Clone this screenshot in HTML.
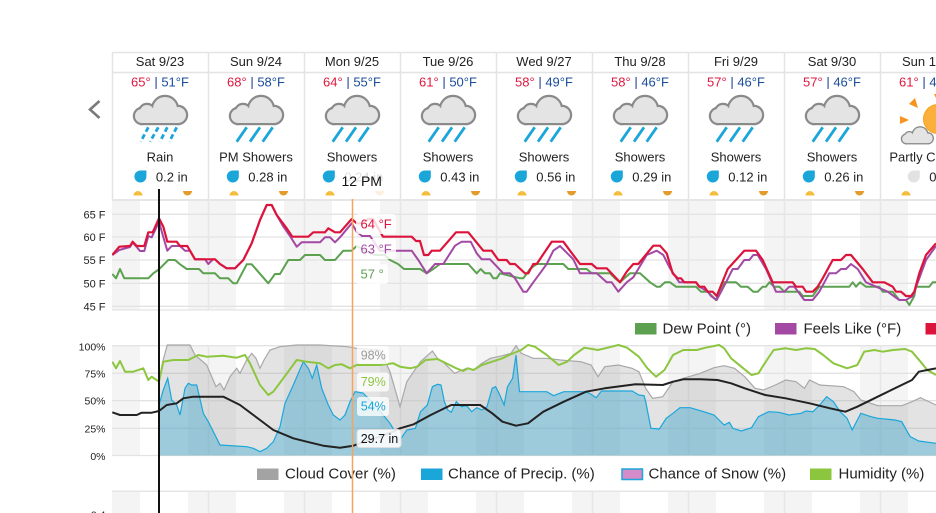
<!DOCTYPE html>
<html>
<head>
<meta charset="utf-8">
<style>
  html, body { margin:0; padding:0; background:#fff; width:936px; height:513px; overflow:hidden; }
  svg { display:block; }
  text { font-family: "Liberation Sans", Arial, sans-serif; }
</style>
</head>
<body>
<svg width="936" height="513" viewBox="0 0 936 513" xmlns="http://www.w3.org/2000/svg">
  <defs>
    <g id="cloud">
      <g fill="#8a8a8a" stroke="#8a8a8a" stroke-width="4.4">
        <circle cx="8" cy="19" r="7"/>
        <circle cx="13" cy="15" r="7"/>
        <circle cx="31" cy="12" r="12"/>
        <circle cx="44" cy="18" r="8"/>
        <rect x="8" y="15" width="36" height="11"/>
      </g>
      <g fill="#e4e4e4">
        <circle cx="8" cy="19" r="7"/>
        <circle cx="13" cy="15" r="7"/>
        <circle cx="31" cy="12" r="12"/>
        <circle cx="44" cy="18" r="8"/>
        <rect x="8" y="15" width="36" height="11"/>
      </g>
    </g>
    <path id="drop" d="M12,0 L12,6 A6,6 0 1,1 6,0 Z"/>
    <clipPath id="plot1"><rect x="112" y="199" width="824" height="112"/></clipPath>
    <clipPath id="plot2"><rect x="112" y="344" width="824" height="112"/></clipPath>
  </defs>

  <!-- chevron -->
  <path d="M99.5,101 L90,109.5 L99.5,118" fill="none" stroke="#7a7a7a" stroke-width="2.6"/>

  <!-- ============ HEADER ============ -->
  <g stroke="#e4e4e4" stroke-width="1.5">
    <line x1="112" y1="52.5" x2="936" y2="52.5"/>
    <line x1="112" y1="72.5" x2="936" y2="72.5"/>
    <line x1="112.5" y1="52" x2="112.5" y2="199"/>
    <line x1="208.5" y1="52" x2="208.5" y2="199"/>
    <line x1="304.5" y1="52" x2="304.5" y2="199"/>
    <line x1="400.5" y1="52" x2="400.5" y2="199"/>
    <line x1="496.5" y1="52" x2="496.5" y2="199"/>
    <line x1="592.5" y1="52" x2="592.5" y2="199"/>
    <line x1="688.5" y1="52" x2="688.5" y2="199"/>
    <line x1="784.5" y1="52" x2="784.5" y2="199"/>
    <line x1="880.5" y1="52" x2="880.5" y2="199"/>
  </g>

  <!-- dates -->
  <g font-size="13" fill="#222" text-anchor="middle">
    <text x="160" y="66">Sat 9/23</text>
    <text x="256" y="66">Sun 9/24</text>
    <text x="352" y="66">Mon 9/25</text>
    <text x="448" y="66">Tue 9/26</text>
    <text x="544" y="66">Wed 9/27</text>
    <text x="640" y="66">Thu 9/28</text>
    <text x="736" y="66">Fri 9/29</text>
    <text x="832" y="66">Sat 9/30</text>
    <text x="928" y="66">Sun 10/1</text>
  </g>

  <!-- hi/lo temps -->
  <g font-size="13" text-anchor="middle">
    <text x="160" y="86.5"><tspan fill="#e0173f">65°</tspan><tspan fill="#1b3f8f"> | </tspan><tspan fill="#1b4d9b">51°F</tspan></text>
    <text x="256" y="86.5"><tspan fill="#e0173f">68°</tspan><tspan fill="#1b3f8f"> | </tspan><tspan fill="#1b4d9b">58°F</tspan></text>
    <text x="352" y="86.5"><tspan fill="#e0173f">64°</tspan><tspan fill="#1b3f8f"> | </tspan><tspan fill="#1b4d9b">55°F</tspan></text>
    <text x="448" y="86.5"><tspan fill="#e0173f">61°</tspan><tspan fill="#1b3f8f"> | </tspan><tspan fill="#1b4d9b">50°F</tspan></text>
    <text x="544" y="86.5"><tspan fill="#e0173f">58°</tspan><tspan fill="#1b3f8f"> | </tspan><tspan fill="#1b4d9b">49°F</tspan></text>
    <text x="640" y="86.5"><tspan fill="#e0173f">58°</tspan><tspan fill="#1b3f8f"> | </tspan><tspan fill="#1b4d9b">46°F</tspan></text>
    <text x="736" y="86.5"><tspan fill="#e0173f">57°</tspan><tspan fill="#1b3f8f"> | </tspan><tspan fill="#1b4d9b">46°F</tspan></text>
    <text x="832" y="86.5"><tspan fill="#e0173f">57°</tspan><tspan fill="#1b3f8f"> | </tspan><tspan fill="#1b4d9b">46°F</tspan></text>
    <text x="928" y="86.5"><tspan fill="#e0173f">61°</tspan><tspan fill="#1b3f8f"> | </tspan><tspan fill="#1b4d9b">45°F</tspan></text>
  </g>

  <!-- clouds -->
  <use href="#cloud" x="134" y="97"/>
  <use href="#cloud" x="230" y="97"/>
  <use href="#cloud" x="326" y="97"/>
  <use href="#cloud" x="422" y="97"/>
  <use href="#cloud" x="518" y="97"/>
  <use href="#cloud" x="614" y="97"/>
  <use href="#cloud" x="710" y="97"/>
  <use href="#cloud" x="806" y="97"/>

  <!-- rain streaks -->
  <g stroke="#1ba6da" stroke-width="2.8" fill="none">
    <g stroke-dasharray="5 3">
      <line x1="148.3" y1="127.3" x2="140.7" y2="141.7"/>
      <line x1="158.3" y1="127.3" x2="150" y2="141.7"/>
      <line x1="167.3" y1="127.3" x2="160" y2="141.7"/>
      <line x1="176.7" y1="127.3" x2="169.3" y2="141.7"/>
    </g>
    <line x1="246.7" y1="127.3" x2="236.7" y2="141.7"/><line x1="260" y1="127.3" x2="250" y2="141.7"/><line x1="272.7" y1="127.3" x2="262.7" y2="141.7"/>
    <line x1="342.7" y1="127.3" x2="332.7" y2="141.7"/><line x1="356" y1="127.3" x2="346" y2="141.7"/><line x1="368.7" y1="127.3" x2="358.7" y2="141.7"/>
    <line x1="438.7" y1="127.3" x2="428.7" y2="141.7"/><line x1="452" y1="127.3" x2="442" y2="141.7"/><line x1="464.7" y1="127.3" x2="454.7" y2="141.7"/>
    <line x1="534.7" y1="127.3" x2="524.7" y2="141.7"/><line x1="548" y1="127.3" x2="538" y2="141.7"/><line x1="560.7" y1="127.3" x2="550.7" y2="141.7"/>
    <line x1="630.7" y1="127.3" x2="620.7" y2="141.7"/><line x1="644" y1="127.3" x2="634" y2="141.7"/><line x1="656.7" y1="127.3" x2="646.7" y2="141.7"/>
    <line x1="726.7" y1="127.3" x2="716.7" y2="141.7"/><line x1="740" y1="127.3" x2="730" y2="141.7"/><line x1="752.7" y1="127.3" x2="742.7" y2="141.7"/>
    <line x1="822.7" y1="127.3" x2="812.7" y2="141.7"/><line x1="836" y1="127.3" x2="826" y2="141.7"/><line x1="848.7" y1="127.3" x2="838.7" y2="141.7"/>
  </g>

  <!-- partly cloudy icon -->
  <g fill="#f7931e">
    <polygon points="934,94 942,94 938,102"/>
    <polygon points="909,104 915,98 918,108" />
    <polygon points="900,116 900,124 909,120"/>
    <polygon points="960,104 954,98 951,108"/>
  </g>
  <circle cx="938" cy="119" r="14.5" fill="#fbb03b" stroke="#f7a21e" stroke-width="1"/>
  <use href="#cloud" transform="translate(901.5,127.5) scale(0.6)"/>

  <!-- conditions -->
  <g font-size="13" fill="#222" text-anchor="middle">
    <text x="160" y="161.5">Rain</text>
    <text x="256" y="161.5">PM Showers</text>
    <text x="352" y="161.5">Showers</text>
    <text x="448" y="161.5">Showers</text>
    <text x="544" y="161.5">Showers</text>
    <text x="640" y="161.5">Showers</text>
    <text x="736" y="161.5">Showers</text>
    <text x="832" y="161.5">Showers</text>
    <text x="928" y="161.5">Partly Cloudy</text>
  </g>

  <!-- precip -->
  <g fill="#1ba6da">
    <use href="#drop" x="134.4" y="170.5"/>
    <use href="#drop" x="226.8" y="170.5"/>
    <use href="#drop" x="322.8" y="170.5"/>
    <use href="#drop" x="418.8" y="170.5"/>
    <use href="#drop" x="514.8" y="170.5"/>
    <use href="#drop" x="610.8" y="170.5"/>
    <use href="#drop" x="706.8" y="170.5"/>
    <use href="#drop" x="802.8" y="170.5"/>
  </g>
  <use href="#drop" x="907.8" y="170.5" fill="#e2e2e2"/>
  <g font-size="13" fill="#222">
    <text x="155.9" y="181.5">0.2 in</text>
    <text x="248.3" y="181.5">0.28 in</text>
    <text x="344.3" y="181.5">0.24 in</text>
    <text x="440.3" y="181.5">0.43 in</text>
    <text x="536.3" y="181.5">0.56 in</text>
    <text x="632.3" y="181.5">0.29 in</text>
    <text x="728.3" y="181.5">0.12 in</text>
    <text x="824.3" y="181.5">0.26 in</text>
    <text x="929.3" y="181.5">0 in</text>
  </g>

  <!-- sunrise / sunset dots -->
  <g fill="#f7bb3d">
    <path d="M133.5,195.5 A4.5,4.5 0 0 1 142.5,195.5 Z"/>
    <path d="M229.5,195.5 A4.5,4.5 0 0 1 238.5,195.5 Z"/>
    <path d="M325.5,195.5 A4.5,4.5 0 0 1 334.5,195.5 Z"/>
    <path d="M421.5,195.5 A4.5,4.5 0 0 1 430.5,195.5 Z"/>
    <path d="M517.5,195.5 A4.5,4.5 0 0 1 526.5,195.5 Z"/>
    <path d="M613.5,195.5 A4.5,4.5 0 0 1 622.5,195.5 Z"/>
    <path d="M709.5,195.5 A4.5,4.5 0 0 1 718.5,195.5 Z"/>
    <path d="M805.5,195.5 A4.5,4.5 0 0 1 814.5,195.5 Z"/>
    <path d="M901.5,195.5 A4.5,4.5 0 0 1 910.5,195.5 Z"/>
  </g>
  <g fill="#e39b2b">
    <path d="M183,191 A4.5,4.5 0 0 0 192,191 Z"/>
    <path d="M279,191 A4.5,4.5 0 0 0 288,191 Z"/>
    <path d="M375,191 A4.5,4.5 0 0 0 384,191 Z"/>
    <path d="M471,191 A4.5,4.5 0 0 0 480,191 Z"/>
    <path d="M567,191 A4.5,4.5 0 0 0 576,191 Z"/>
    <path d="M663,191 A4.5,4.5 0 0 0 672,191 Z"/>
    <path d="M759,191 A4.5,4.5 0 0 0 768,191 Z"/>
    <path d="M855,191 A4.5,4.5 0 0 0 864,191 Z"/>
  </g>

  <!-- ============ TEMPERATURE CHART ============ -->
  <rect x="112" y="199" width="824" height="2" fill="#e6e6e6"/>
  <g fill="#f4f4f4">
    <rect x="112" y="201" width="28" height="109"/>
    <rect x="188" y="201" width="48" height="109"/>
    <rect x="284" y="201" width="48" height="109"/>
    <rect x="380" y="201" width="48" height="109"/>
    <rect x="476" y="201" width="48" height="109"/>
    <rect x="572" y="201" width="48" height="109"/>
    <rect x="668" y="201" width="48" height="109"/>
    <rect x="764" y="201" width="48" height="109"/>
    <rect x="860" y="201" width="48" height="109"/>
  </g>
  <g stroke="#e3e3e3" stroke-width="1.3">
    <line x1="112" y1="214.3" x2="936" y2="214.3"/>
    <line x1="112" y1="237" x2="936" y2="237"/>
    <line x1="112" y1="260" x2="936" y2="260"/>
    <line x1="112" y1="283.3" x2="936" y2="283.3"/>
    <line x1="112" y1="306.3" x2="936" y2="306.3"/>
    <line x1="112" y1="310" x2="936" y2="310"/>
  </g>
  <g stroke="#e6e6e6" stroke-width="1.5">
    <line x1="208.5" y1="199" x2="208.5" y2="310"/>
    <line x1="304.5" y1="199" x2="304.5" y2="310"/>
    <line x1="400.5" y1="199" x2="400.5" y2="310"/>
    <line x1="496.5" y1="199" x2="496.5" y2="310"/>
    <line x1="592.5" y1="199" x2="592.5" y2="310"/>
    <line x1="688.5" y1="199" x2="688.5" y2="310"/>
    <line x1="784.5" y1="199" x2="784.5" y2="310"/>
    <line x1="880.5" y1="199" x2="880.5" y2="310"/>
  </g>
  <g font-size="11" fill="#222" text-anchor="end">
    <text x="105.5" y="218.3">65 F</text>
    <text x="105.5" y="241">60 F</text>
    <text x="105.5" y="264">55 F</text>
    <text x="105.5" y="287.3">50 F</text>
    <text x="105.5" y="310.3">45 F</text>
  </g>

  <g fill="none" stroke-width="2" stroke-linejoin="round" clip-path="url(#plot1)">
    <polyline stroke="#5ba150" points="112.3,274 116,278.3 120,269 124.3,278.3 148.3,278.3 153.3,273.3 159,269.3 168.3,260 175,260 180,264.3 186.7,269 199,269 203.3,273.3 215,273.3 220,278.3 228.3,278.3 233.3,283.3 236.7,283.3 246.7,264.3 251.7,264.3 268.3,283.3 275,274 280,274 288.3,260 300,260 305,255 320,255 325,260 335,260 343.3,250.7 351.7,250.7 356.7,246 365,250.7 375,255 385,255 390,260 398,264 404,269 420,269 426.7,273.3 433.3,269 440,264 468.3,264 476.7,273.3 480.7,269 485,273.3 490,273.3 493.3,278.3 496.7,278.3 500,273.3 520,278.3 523.3,278.3 530,269 536.7,264 563.3,264 568.3,269 586.7,269 591.7,273.3 610,273.3 615,278.3 620,282.3 630,273.3 640,273.3 650,282.3 656.7,286.7 660,286.7 665,282.3 670,282.3 676,286.7 696,286.7 701,291.7 707.7,291.7 716,300 724.3,282.3 736,282.3 741,286.7 747.7,286.7 753.3,291.7 757.7,291.7 762.7,286.7 766,286.7 769.3,282.3 774.3,286.7 779.3,286.7 784.3,291.7 799.3,291.7 802.7,296 812.7,296 819.3,286.7 849.3,286.7 852.7,282.3 856,286.7 860,282.3 866,286.7 879.3,286.7 882.7,291.7 892.7,291.7 899.3,300 906,300 909.3,305 914.3,296 916,286.7 929.3,286.7 932.7,282.3 936,282.3"/>
    <polyline stroke="#a349a4" points="112.3,255 119.3,250 130,247 132.7,242.7 136.7,247 140,251 144.3,251 148.3,236 151.7,237.3 156.7,226.7 159,221.7 163,236 167.3,250.7 171.7,246 180,246 185,250.7 190,250.7 195,259.3 205,259.3 208.3,264 213,259.3 215,259.3 220,264 226.7,268.3 235,268.3 243.3,260 251.7,243.3 260,220 266.7,205 271.7,205 276.7,215 283,226 290,236 296.7,246.7 301.7,242.3 320,242.3 325,237.3 330,237.3 335,242.3 340,237.3 351.7,223.3 356.7,231.7 362,236 370,236 380,250.7 411.7,250.7 418.3,260 426.7,273.3 435,264 443.3,264 455,245.7 461.7,241.7 470.7,241.7 476.7,253.3 481.7,259.3 490,259.3 503.3,273.3 510,273.3 515,278.3 523.3,291.7 526.7,291.7 533.3,282.3 540,273.3 546.7,264 553.3,250.7 560,246 573.3,259.3 580,273.3 596.7,273.3 606.7,282.3 611.7,282.3 618.3,291.7 626.7,282.3 633.3,277.3 646.7,255 656.7,250.7 663.3,255 670,268.3 679.3,282.3 696,282.3 699.3,286.7 707.7,291.7 711,296 716.7,300 726,282.3 732.7,269 737.7,269 744.3,260 749.3,260 753.3,255 757.7,255 766,269 776,291.7 784.3,291.7 789.3,286.7 794.3,286.7 804.3,300 812.7,300 819.3,291.7 829.3,273.3 836,273.3 841,269 846,269 851,264 857.7,269 866,282.3 887.7,291.7 899.3,300 906,300 912.7,296 919.3,278.3 926,260 936,246"/>
    <polyline stroke="#dc143c" stroke-width="2.2" points="112.3,255 119.3,246.7 130,246 132.7,241.7 136.7,246 144.3,246 148.3,232.3 152.7,232.3 159,218.3 163.3,226.7 167.3,241.7 176.7,241.7 180,246 187.3,246 195,259.3 215,259.3 220,264 226.7,268.3 235,268.3 243.3,260 251.7,243.3 260,220 266.7,205 271.7,205 276.7,215 286.7,228.3 292.3,236.7 308.3,236.7 313.3,232.3 325,232.3 328.3,228.3 335,232.3 340,232.3 351.7,219 356.7,223.3 362,223.3 368,219 373,219 383,236.7 411.7,236.7 416,241 420,241 424,255 428.3,255 431.7,250.7 440,250.7 456,232.3 468.3,232.3 483.3,250.7 491.7,250.7 498.3,260 506.7,260 510,264 515,264 525,273.3 528.3,273.3 533.3,264 536.7,264 551.7,241.7 563.3,241.7 570,250.7 580,264 591.7,264 596.7,268.3 606.7,268.3 620,282.3 626.7,271.7 633.3,264 638.3,264 653.3,245.7 660,245.7 666.7,253.3 672.7,273.3 677.7,278.3 681,278.3 684.3,282.3 696,282.3 699.3,286.7 704.3,286.7 707.7,291.7 712.7,291.7 716.7,296 727.7,269 744.3,250.7 756,250.7 762.7,260 772.7,282.3 792.7,282.3 796,286.7 802.7,286.7 806,291.7 812.7,291.7 817.7,286.7 822.7,278.3 832.7,260 841,260 846,255 851,255 862.7,269 872.7,282.3 884.3,282.3 892.7,286.7 896,291.7 901,291.7 906,296 911,296 914.3,291.7 919.3,273.3 926,255 936,243.3"/>
  </g>

  <!-- temp tooltips -->
  <g fill="#ffffff" fill-opacity="0.82">
    <rect x="356" y="214" width="40" height="20" rx="3"/>
    <rect x="356" y="239" width="40" height="20" rx="3"/>
    <rect x="356" y="264" width="32" height="20" rx="3"/>
  </g>
  <g font-size="13">
    <text x="360.5" y="228.6" fill="#dc143c">64 °F</text>
    <text x="360.5" y="253.6" fill="#a349a4">63 °F</text>
    <text x="360.5" y="278.6" fill="#5ba150">57 °</text>
  </g>

  <!-- legend 1 -->
  <g font-size="15" fill="#222">
    <rect x="635" y="323" width="21.5" height="11.5" fill="#5ba150"/>
    <text x="662.5" y="333.5">Dew Point (°)</text>
    <rect x="775" y="323" width="21.5" height="11.5" fill="#a349a4"/>
    <text x="803.5" y="333.5">Feels Like (°F)</text>
    <rect x="925.5" y="323" width="21.5" height="11.5" fill="#dc143c"/>
  </g>

  <!-- ============ HUMIDITY CHART ============ -->
  <g fill="#f4f4f4">
    <rect x="112" y="345.5" width="28" height="110"/>
    <rect x="188" y="345.5" width="48" height="110"/>
    <rect x="284" y="345.5" width="48" height="110"/>
    <rect x="380" y="345.5" width="48" height="110"/>
    <rect x="476" y="345.5" width="48" height="110"/>
    <rect x="572" y="345.5" width="48" height="110"/>
    <rect x="668" y="345.5" width="48" height="110"/>
    <rect x="764" y="345.5" width="48" height="110"/>
    <rect x="860" y="345.5" width="48" height="110"/>
  </g>
  <g stroke="#e3e3e3" stroke-width="1.3">
    <line x1="112" y1="345.7" x2="936" y2="345.7"/>
    <line x1="112" y1="373.3" x2="936" y2="373.3"/>
    <line x1="112" y1="400.7" x2="936" y2="400.7"/>
    <line x1="112" y1="428.3" x2="936" y2="428.3"/>
    <line x1="112" y1="455.5" x2="936" y2="455.5"/>
  </g>
  <g stroke="#e6e6e6" stroke-width="1.5">
    <line x1="208.5" y1="345" x2="208.5" y2="456"/>
    <line x1="304.5" y1="345" x2="304.5" y2="456"/>
    <line x1="400.5" y1="345" x2="400.5" y2="456"/>
    <line x1="496.5" y1="345" x2="496.5" y2="456"/>
    <line x1="592.5" y1="345" x2="592.5" y2="456"/>
    <line x1="688.5" y1="345" x2="688.5" y2="456"/>
    <line x1="784.5" y1="345" x2="784.5" y2="456"/>
    <line x1="880.5" y1="345" x2="880.5" y2="456"/>
  </g>
  <g font-size="10.5" fill="#222" text-anchor="end">
    <text x="105.5" y="350.5">100%</text>
    <text x="105.5" y="377.3">75%</text>
    <text x="105.5" y="404.7">50%</text>
    <text x="105.5" y="432.3">25%</text>
    <text x="105.5" y="460">0%</text>
  </g>

  <g clip-path="url(#plot2)">
    <!-- cloud cover -->
    <polygon fill="#999999" fill-opacity="0.28" points="159,381.7 162.7,361.7 167.3,345 190,345 195,355 206.7,365 216,386.7 220,383.3 224,390 230,376.7 236.7,368.3 240,373.3 246.7,360 251.7,353.3 256,358.3 260,368.3 264,360 270,350 280,346.7 296.7,345 320,345 346.7,346.7 356.7,348.3 380,350 390,371.7 400,406.7 406.8,381.7 420.5,361.7 432.4,351 437.5,358.3 444.4,363.3 454.6,373.3 459.7,371 466.6,368.3 473.4,370 482,363.3 490.4,358.3 502.4,355.7 511,353.3 516,345.7 521.2,353.3 533.1,358.3 546.8,358.3 560.4,360 580.9,361.7 591.1,365 598,376.7 604.8,366.7 618.4,365 632.1,368.3 638.9,371.7 645.7,388.3 652.6,398.3 662.8,396.7 673,381.7 683.3,378.3 700.3,373.3 714,367.7 724.2,365.7 734.5,368.3 744.7,376.7 755,388.3 763.5,390 775.4,385 785.7,380 795.9,381.7 804.4,388.3 809.6,380 819.8,385 843.7,386.7 854,391.7 860.8,400 877.8,405.7 901.7,405.7 912,401.7 920.5,397.7 927.3,401 936,405 936,455.5 159,455.5"/>
    <polyline fill="none" stroke="#a8a8a8" stroke-width="1.2" points="159,381.7 162.7,361.7 167.3,345 190,345 195,355 206.7,365 216,386.7 220,383.3 224,390 230,376.7 236.7,368.3 240,373.3 246.7,360 251.7,353.3 256,358.3 260,368.3 264,360 270,350 280,346.7 296.7,345 320,345 346.7,346.7 356.7,348.3 380,350 390,371.7 400,406.7 406.8,381.7 420.5,361.7 432.4,351 437.5,358.3 444.4,363.3 454.6,373.3 459.7,371 466.6,368.3 473.4,370 482,363.3 490.4,358.3 502.4,355.7 511,353.3 516,345.7 521.2,353.3 533.1,358.3 546.8,358.3 560.4,360 580.9,361.7 591.1,365 598,376.7 604.8,366.7 618.4,365 632.1,368.3 638.9,371.7 645.7,388.3 652.6,398.3 662.8,396.7 673,381.7 683.3,378.3 700.3,373.3 714,367.7 724.2,365.7 734.5,368.3 744.7,376.7 755,388.3 763.5,390 775.4,385 785.7,380 795.9,381.7 804.4,388.3 809.6,380 819.8,385 843.7,386.7 854,391.7 860.8,400 877.8,405.7 901.7,405.7 912,401.7 920.5,397.7 927.3,401 936,405"/>
    <!-- precip -->
    <polygon fill="#3caad2" fill-opacity="0.42" points="159,405 163.3,390 167.7,378.3 171.7,400 176.7,405 180,415 185,388.3 188.3,383.3 191.7,385 196.7,385 203.3,413.3 208.3,421.7 215,435 220,445 246.7,446.7 253.3,448.3 260,451.7 266.7,448.3 273.3,441.7 280,426.7 285,403.3 293.3,385 303.3,361.7 308.3,368.3 312.3,378.3 316.7,365 321.7,388.3 328.3,405 333.3,415 340,420 345,415 350,401.7 355,391.7 363,393 375,405 390,423.3 400,440 406.8,430 415.4,428.3 420.5,411.7 427.3,405 432.4,386.7 437.5,384.3 441,385 444.4,401.7 447.8,410 451.2,412.3 456.3,401.7 461.4,406.7 466.6,405.7 471.7,411.7 476.8,407.7 481.9,410 487,406.7 492.2,388.3 495.6,386.7 499,393.3 504.1,405 507.5,386.7 512.6,378.3 516,355 519.5,391.7 546.8,391.7 553.6,395.7 563.8,391.7 584.3,391.7 589.4,393.3 596.2,397.7 601.4,391 632.1,391 638.9,395 644,395.7 645.7,401.7 650.9,428.3 659.4,429 666.2,418.3 673,413.3 679.9,407.7 690.1,407.7 703.8,411.7 714,415 724.2,425 729.4,422.3 732.8,428.3 741.3,431 751.5,427.7 758.4,416.7 768.6,411.7 778.8,412.3 789.1,415 801,413.3 806.1,411 812.9,411.7 819.8,405 826.6,396.7 833.4,401.7 840.2,411.7 847.1,418.3 852.2,430 860.8,413.3 871,416.7 877.8,418.3 894.9,420 901.7,421.7 910.2,436.7 918.8,441 936,443.3 936,455.5 159,455.5"/>
    <polyline fill="none" stroke="#1ba6da" stroke-width="1.2" points="159,405 163.3,390 167.7,378.3 171.7,400 176.7,405 180,415 185,388.3 188.3,383.3 191.7,385 196.7,385 203.3,413.3 208.3,421.7 215,435 220,445 246.7,446.7 253.3,448.3 260,451.7 266.7,448.3 273.3,441.7 280,426.7 285,403.3 293.3,385 303.3,361.7 308.3,368.3 312.3,378.3 316.7,365 321.7,388.3 328.3,405 333.3,415 340,420 345,415 350,401.7 355,391.7 363,393 375,405 390,423.3 400,440 406.8,430 415.4,428.3 420.5,411.7 427.3,405 432.4,386.7 437.5,384.3 441,385 444.4,401.7 447.8,410 451.2,412.3 456.3,401.7 461.4,406.7 466.6,405.7 471.7,411.7 476.8,407.7 481.9,410 487,406.7 492.2,388.3 495.6,386.7 499,393.3 504.1,405 507.5,386.7 512.6,378.3 516,355 519.5,391.7 546.8,391.7 553.6,395.7 563.8,391.7 584.3,391.7 589.4,393.3 596.2,397.7 601.4,391 632.1,391 638.9,395 644,395.7 645.7,401.7 650.9,428.3 659.4,429 666.2,418.3 673,413.3 679.9,407.7 690.1,407.7 703.8,411.7 714,415 724.2,425 729.4,422.3 732.8,428.3 741.3,431 751.5,427.7 758.4,416.7 768.6,411.7 778.8,412.3 789.1,415 801,413.3 806.1,411 812.9,411.7 819.8,405 826.6,396.7 833.4,401.7 840.2,411.7 847.1,418.3 852.2,430 860.8,413.3 871,416.7 877.8,418.3 894.9,420 901.7,421.7 910.2,436.7 918.8,441 936,443.3"/>
    <!-- humidity -->
    <polyline fill="none" stroke="#8cc63f" stroke-width="2" stroke-linejoin="round" points="112.3,361.7 116,368.3 120,361 125,371.7 133.3,371.7 143.3,368.3 148.3,380 151.7,376.7 159,381.7 163.3,361.7 173.3,360 188.3,360 198.3,355 206.7,356.7 223.3,355.7 236.7,357.7 245,355 250,363.3 260,385 268.3,395 273.3,391.7 283.3,378.3 296.7,360 306.7,361.7 320,363.3 328.3,368.3 335,365 341.7,364.3 350,368.3 356.7,365 380,365 393.3,363.3 400,366.7 410.2,368.3 417.1,366.7 425.6,360 437.5,359 446.1,363.3 456.3,368.3 463.1,371 468.3,368.3 473.4,370 482,365 492.2,361.7 502.4,358.3 509.2,355 521.2,350 528,345 534.8,346.7 546.8,355 558.7,365 567.2,361.7 574.1,355 584.3,347.7 598,350 611.6,346.7 618.4,345 627,347.7 638.9,356.7 647.4,368.3 656,376.7 664.5,370 673,355 683.3,350 696.9,350 705.5,347.7 719.1,345 724.2,348.3 731.1,358.3 741.3,366.7 751.5,375 758.4,373.3 766.9,360 773.7,350 785.7,348.3 795.9,350 806.1,348.3 814.7,349 823.2,355 833.4,363.3 847.1,368.3 857.3,365 864.2,351.7 874.4,350 882.9,351.7 893.2,350 905.1,349 912,351.7 920.5,361.7 927.3,370 936,375"/>
    <!-- pressure -->
    <polyline fill="none" stroke="#222" stroke-width="2" stroke-linejoin="round" points="112.3,412.3 120,415 136.7,415 141.7,412.7 151.7,412.7 159,411 166.7,405 176.7,403.3 183.3,398.3 193.3,396.7 223.3,396.7 230,400 240,405 260,420 273.3,430 293.3,438.3 306.7,441.7 323.3,445.7 340,447.7 353.3,445.7 370,440 390,433 400,428.3 413.7,424.3 430.7,415 451.2,405 480.2,405 492.2,413.3 502.4,421.7 516,425.7 528,423.3 543.3,411.7 563.8,401.7 586,391.7 604.8,388.3 635.5,384.3 662.8,385 673,381.7 683.3,379.3 700.3,379.3 717.4,380 731.1,383.3 744.7,388.3 765.2,395 785.7,398.3 809.6,403.3 830,408.3 845.4,411.7 857.3,406.7 884.6,393.3 912,380 918.8,371.7 927.3,370 936,368.3"/>
  </g>

  <!-- humidity tooltips -->
  <g fill="#ffffff" fill-opacity="0.78">
    <rect x="357" y="346" width="32" height="18" rx="3"/>
    <rect x="357" y="372.5" width="32" height="19" rx="3"/>
    <rect x="357" y="397" width="32" height="19" rx="3"/>
  </g>
  <rect x="357" y="429.5" width="44" height="18" rx="3" fill="#ffffff" fill-opacity="0.88" stroke="#dddddd" stroke-width="1"/>
  <g font-size="12.5">
    <text x="360.7" y="359.5" fill="#9a9a9a">98%</text>
    <text x="360.7" y="386.2" fill="#8cc63f">79%</text>
    <text x="360.7" y="410.5" fill="#1ba6da">54%</text>
    <text x="360.7" y="442.8" fill="#111">29.7 in</text>
  </g>

  <!-- legend 2 -->
  <g font-size="15" fill="#222">
    <rect x="257" y="468.5" width="21.5" height="11.5" fill="#a3a3a3"/>
    <text x="285" y="478.5">Cloud Cover (%)</text>
    <rect x="421" y="468.5" width="21.5" height="11.5" fill="#1ba6da"/>
    <text x="448" y="478.5">Chance of Precip. (%)</text>
    <rect x="622" y="469" width="20.5" height="10.5" fill="#d48cc8" stroke="#1ba6da" stroke-width="1.5"/>
    <text x="648.5" y="478.5">Chance of Snow (%)</text>
    <rect x="810" y="468.5" width="21.5" height="11.5" fill="#8cc63f"/>
    <text x="838.5" y="478.5">Humidity (%)</text>
  </g>

  <!-- ============ THIRD CHART (cut) ============ -->
  <rect x="112" y="490.5" width="824" height="1.5" fill="#e6e6e6"/>
  <g fill="#f4f4f4">
    <rect x="112" y="492" width="28" height="21"/>
    <rect x="188" y="492" width="48" height="21"/>
    <rect x="284" y="492" width="48" height="21"/>
    <rect x="380" y="492" width="48" height="21"/>
    <rect x="476" y="492" width="48" height="21"/>
    <rect x="572" y="492" width="48" height="21"/>
    <rect x="668" y="492" width="48" height="21"/>
    <rect x="764" y="492" width="48" height="21"/>
    <rect x="860" y="492" width="48" height="21"/>
  </g>
  <g stroke="#e6e6e6" stroke-width="1.5">
    <line x1="208.5" y1="492" x2="208.5" y2="513"/>
    <line x1="304.5" y1="492" x2="304.5" y2="513"/>
    <line x1="400.5" y1="492" x2="400.5" y2="513"/>
    <line x1="496.5" y1="492" x2="496.5" y2="513"/>
    <line x1="592.5" y1="492" x2="592.5" y2="513"/>
    <line x1="688.5" y1="492" x2="688.5" y2="513"/>
    <line x1="784.5" y1="492" x2="784.5" y2="513"/>
    <line x1="880.5" y1="492" x2="880.5" y2="513"/>
  </g>
  <text x="105.5" y="518.5" font-size="10.5" fill="#222" text-anchor="end">0.4</text>

  <!-- 12 PM tooltip -->
  <rect x="336" y="168" width="57" height="29" fill="#ffffff" fill-opacity="0.85"/>
  <text x="341.5" y="186" font-size="14" fill="#111">12 PM</text>

  <!-- vertical markers -->
  <line x1="352.5" y1="199" x2="352.5" y2="513" stroke="#f7a35c" stroke-width="1.5"/>
  <line x1="159" y1="189" x2="159" y2="513" stroke="#111" stroke-width="2"/>
</svg>
</body>
</html>
